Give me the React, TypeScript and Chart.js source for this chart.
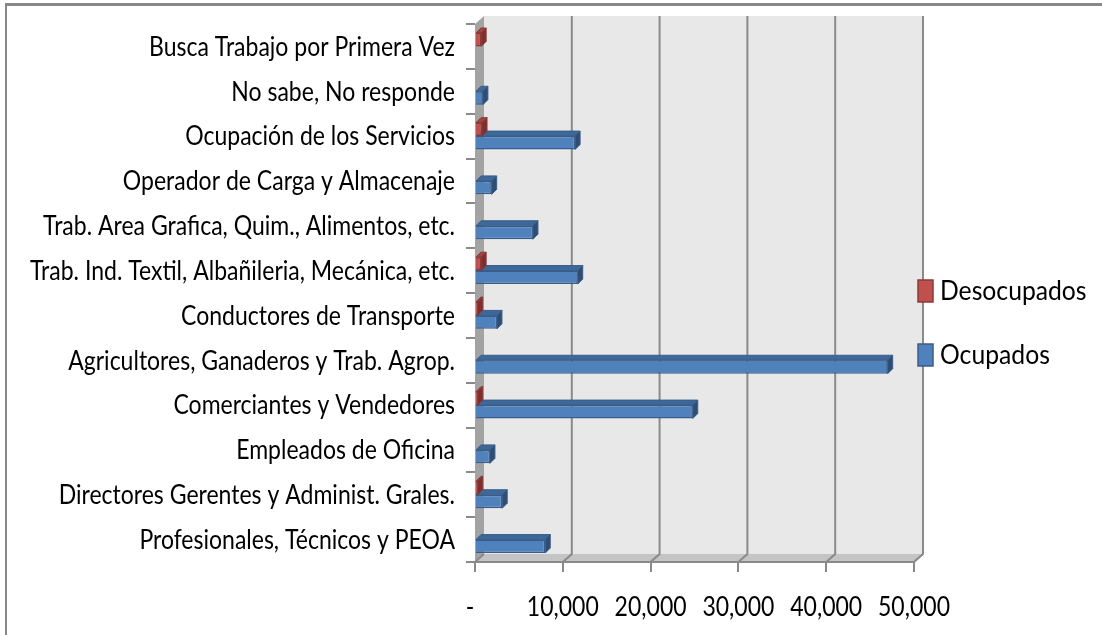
import React, { useEffect, useRef } from 'react';
import { Chart, registerables } from 'chart.js';

Chart.register(...registerables);

const categories = [
  'Busca Trabajo por Primera Vez',
  'No sabe, No responde',
  'Ocupación de los Servicios',
  'Operador de Carga y Almacenaje',
  'Trab. Area Grafica, Quim., Alimentos, etc.',
  'Trab. Ind. Textil, Albañileria, Mecánica, etc.',
  'Conductores de Transporte',
  'Agricultores, Ganaderos y Trab. Agrop.',
  'Comerciantes y Vendedores',
  'Empleados de Oficina',
  'Directores Gerentes y Administ. Grales.',
  'Profesionales, Técnicos y PEOA',
];
const seriesNames = ['Desocupados', 'Ocupados'];
const desocupados = [700, 0, 800, 0, 0, 700, 300, 0, 300, 0, 300, 0];
const ocupados = [0, 900, 11400, 1900, 6600, 11700, 2500, 47000, 24800, 1700, 3100, 8000];
const xTicks = [0, 10000, 20000, 30000, 40000, 50000];

const FONT = "Lato, 'Open Sans', sans-serif";
const TEXT_SIZE = 26;
const TEXT_SX = 0.885;
const LEGEND_SX = 0.95;
const faceColors = [
  { front: '#c0504d', border: '#8c3836', top: '#a8403d', side: '#7e2f2d' },
  { front: '#4f81bd', border: '#385d8a', top: '#3d6898', side: '#2e4d74' },
];

const DX = 9;
const DY = 8;
const BD = 5;

function narrowText(ctx: CanvasRenderingContext2D, text: string, x: number, y: number, align: CanvasTextAlign, sx = TEXT_SX) {
  ctx.save();
  ctx.translate(x, y);
  ctx.scale(sx, 1);
  ctx.font = `${TEXT_SIZE}px ${FONT}`;
  ctx.fillStyle = '#000';
  ctx.textAlign = align;
  ctx.textBaseline = 'middle';
  ctx.fillText(text, 0, 0);
  ctx.restore();
}

const xLabel = (v: number) => (v === 0 ? '-' : v.toLocaleString('en-US'));

const wallsPlugin = {
  id: 'walls3d',
  beforeDatasetsDraw(chart: any) {
    const { ctx, chartArea } = chart;
    const xs = chart.scales.x;
    const L = chartArea.left, R = chartArea.right, T = chartArea.top, B = chartArea.bottom;
    ctx.save();
    ctx.fillStyle = '#e8e8e8';
    ctx.fillRect(L + DX, T - DY, R - L, B - T);
    ctx.fillStyle = '#a3a3a3';
    ctx.beginPath();
    ctx.moveTo(L, T);
    ctx.lineTo(L + DX, T - DY);
    ctx.lineTo(L + DX, B - DY);
    ctx.lineTo(L, B);
    ctx.closePath();
    ctx.fill();
    ctx.fillStyle = '#c4c4c4';
    ctx.beginPath();
    ctx.moveTo(L, B);
    ctx.lineTo(L + DX, B - DY);
    ctx.lineTo(R + DX, B - DY);
    ctx.lineTo(R, B);
    ctx.closePath();
    ctx.fill();
    ctx.strokeStyle = '#8a8a8a';
    ctx.lineWidth = 2;
    xTicks.forEach((v) => {
      const px = xs.getPixelForValue(v);
      ctx.beginPath();
      if (v !== 0) {
        ctx.moveTo(px + DX, T - DY);
        ctx.lineTo(px + DX, B - DY);
      } else {
        ctx.moveTo(px + DX, B - DY);
      }
      ctx.lineTo(px, B);
      ctx.stroke();
    });
    ctx.beginPath();
    ctx.moveTo(L, B);
    ctx.lineTo(R, B);
    ctx.stroke();
    ctx.restore();
  },
  afterDatasetDraw(chart: any, args: any) {
    const { ctx } = chart;
    const c = faceColors[args.index];
    ctx.save();
    ctx.lineWidth = 1;
    ctx.strokeStyle = c.border;
    args.meta.data.forEach((el: any) => {
      const x = el.x, base = el.base, h = el.height;
      if (Math.abs(x - base) < 0.5) return;
      const top = el.y - h / 2, bottom = el.y + h / 2;
      ctx.fillStyle = c.top;
      ctx.beginPath();
      ctx.moveTo(base, top);
      ctx.lineTo(base + BD, top - BD);
      ctx.lineTo(x + BD, top - BD);
      ctx.lineTo(x, top);
      ctx.closePath();
      ctx.fill();
      ctx.stroke();
      ctx.fillStyle = c.side;
      ctx.beginPath();
      ctx.moveTo(x, top);
      ctx.lineTo(x + BD, top - BD);
      ctx.lineTo(x + BD, bottom - BD);
      ctx.lineTo(x, bottom);
      ctx.closePath();
      ctx.fill();
      ctx.stroke();
    });
    ctx.restore();
  },
  afterDraw(chart: any) {
    const { ctx, chartArea } = chart;
    const xs = chart.scales.x;
    const ys = chart.scales.y;
    categories.forEach((label, i) => {
      narrowText(ctx, label, chartArea.left - 20, ys.getPixelForValue(i) + 1, 'right');
    });
    xTicks.forEach((v) => {
      narrowText(ctx, xLabel(v), xs.getPixelForValue(v) - (v === 0 ? 5 : 0), chartArea.bottom + 46, 'center');
    });
    const items = [
      { y: 291, c: faceColors[0], name: seriesNames[0] },
      { y: 355, c: faceColors[1], name: seriesNames[1] },
    ];
    ctx.save();
    items.forEach((it) => {
      ctx.fillStyle = it.c.front;
      ctx.strokeStyle = it.c.border;
      ctx.lineWidth = 1.5;
      ctx.fillRect(918, it.y - 11, 15, 22);
      ctx.strokeRect(918, it.y - 11, 15, 22);
      narrowText(ctx, it.name, 940, it.y + 1, 'left', LEGEND_SX);
    });
    ctx.restore();
  },
};

export default function App() {
  const ref = useRef<HTMLCanvasElement | null>(null);
  useEffect(() => {
    if (!ref.current) return;
    const chart = new Chart(ref.current, {
      type: 'bar',
      data: {
        labels: categories,
        datasets: [
          {
            label: seriesNames[0],
            data: desocupados,
            backgroundColor: faceColors[0].front,
            borderColor: faceColors[0].border,
            borderWidth: 1.5,
            categoryPercentage: 0.6,
            barPercentage: 1,
          },
          {
            label: seriesNames[1],
            data: ocupados,
            backgroundColor: faceColors[1].front,
            borderColor: faceColors[1].border,
            borderWidth: 1.5,
            categoryPercentage: 0.6,
            barPercentage: 1,
          },
        ],
      },
      options: {
        indexAxis: 'y',
        animation: false,
        responsive: false,
        layout: { padding: { top: 24, right: 188, left: 0, bottom: 0 } },
        plugins: { legend: { display: false }, tooltip: { enabled: false } },
        scales: {
          x: {
            type: 'linear',
            min: 0,
            max: 50000,
            afterBuildTicks: (s: any) => {
              s.ticks = xTicks.map((v) => ({ value: v }));
            },
            afterFit: (s: any) => {
              s.height = 73;
            },
            grid: { drawOnChartArea: false, drawTicks: true, tickLength: 10, color: '#8a8a8a', lineWidth: 2 },
            border: { display: false },
            ticks: { display: false },
          },
          y: {
            type: 'category',
            afterFit: (s: any) => {
              s.width = 475;
            },
            grid: { offset: true, drawOnChartArea: false, drawTicks: true, tickLength: 9, color: '#8a8a8a', lineWidth: 2 },
            border: { display: false },
            ticks: { display: false, autoSkip: false },
          },
        },
      },
      plugins: [wallsPlugin],
    });
    return () => chart.destroy();
  }, []);

  return (
    <div style={{ position: 'fixed', left: 0, top: 0, width: 1102, height: 635, overflow: 'hidden', background: '#fff' }}>
      <div
        style={{
          position: 'absolute',
          left: 5,
          top: 3,
          width: 2000,
          height: 2000,
          borderLeft: '2px solid #888',
          borderTop: '3px solid #888',
        }}
      />
      <canvas ref={ref} width={1102} height={635} style={{ position: 'absolute', left: 0, top: 0 }} />
    </div>
  );
}
